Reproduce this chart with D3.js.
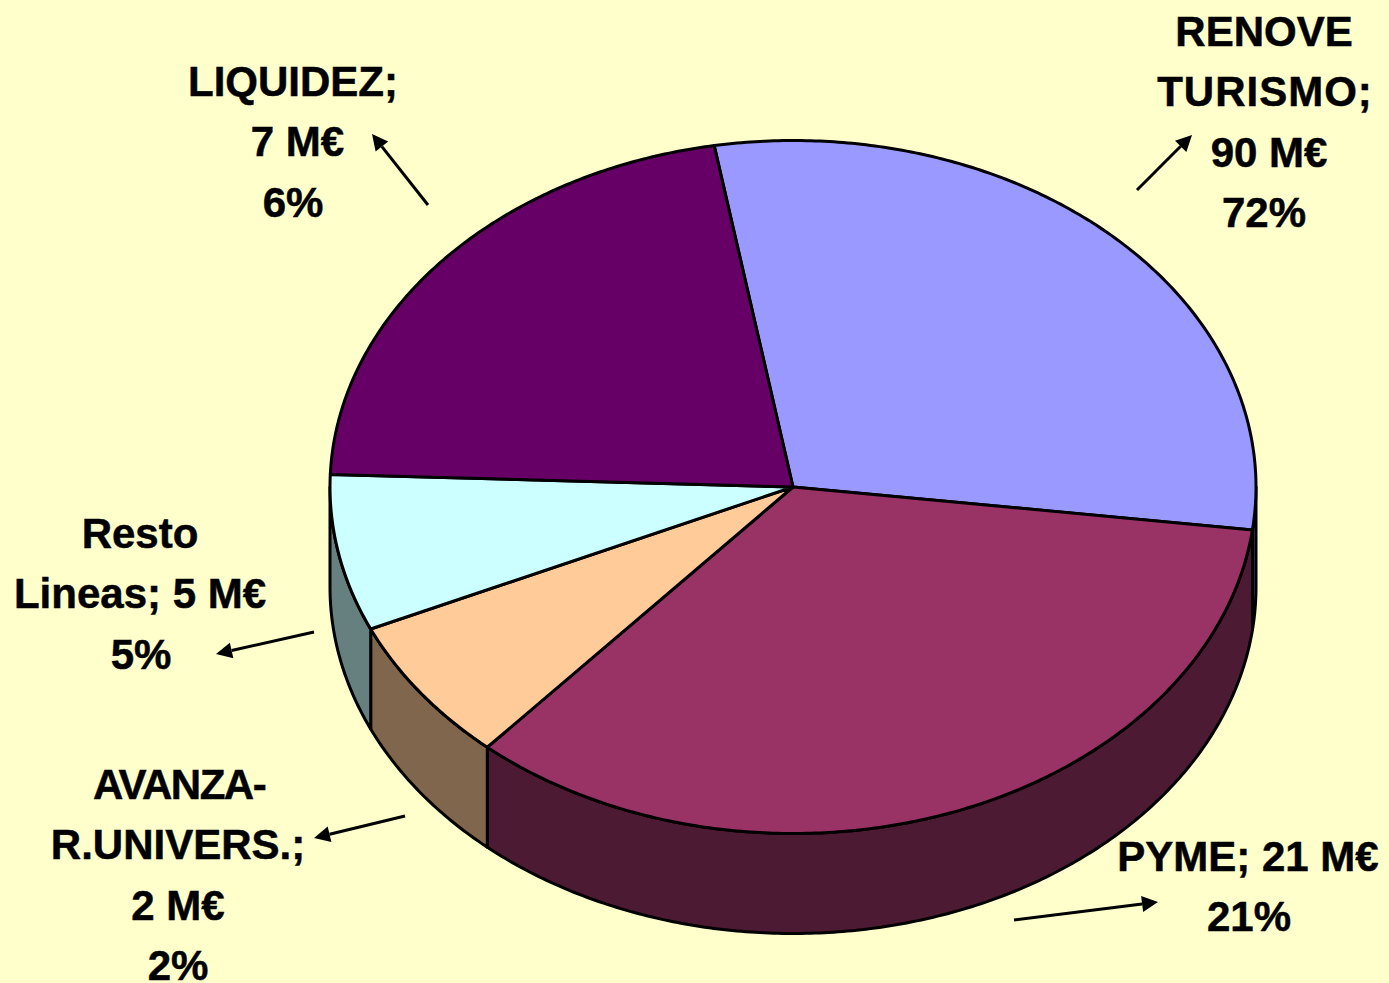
<!DOCTYPE html>
<html><head><meta charset="utf-8">
<script src="https://cdn.jsdelivr.net/npm/d3@7"></script>
<style>html,body{margin:0;padding:0;background:#FFFFCC;overflow:hidden}svg{display:block}
text{font-family:"Liberation Sans",Arial,sans-serif;font-weight:bold;font-size:42px;fill:#000;stroke:#000;stroke-width:.5px;text-anchor:middle}</style>
</head><body><svg id="c" width="1389" height="983"></svg>
<script>
// Categories in drawing order, clockwise from the LIQUIDEZ/RENOVE boundary
const categories = ["RENOVE TURISMO","PYME","AVANZA-R.UNIVERS.","Resto Lineas","LIQUIDEZ"];
// Stated values printed on the labels
const amountsME = [90,21,2,5,7];
const percents = [72,21,2,5,6];
// Slice sizes as actually drawn in the picture (share of the circle, %)
const drawnShares = [29.7,34.5,6.8,7.3,21.7];
const topColors = ["#9999FF","#993366","#FFCC99","#CCFFFF","#660066"];
const sideColors = ["#4D4D80","#4D1A33","#80664D","#668080","#330033"];
const labelLines = [
  ["RENOVE","TURISMO;",amountsME[0]+" M€",percents[0]+"%"],
  ["PYME; "+amountsME[1]+" M€",percents[1]+"%"],
  ["AVANZA-","R.UNIVERS.;",amountsME[2]+" M€",percents[2]+"%"],
  ["Resto","Lineas; "+amountsME[3]+" M€",percents[3]+"%"],
  ["LIQUIDEZ;",amountsME[4]+" M€",percents[4]+"%"]
];
const labelAnchors = [[1264,46],[1248,871],[178,799],[140,548],[293,96]];
const lineOffsets = [[0,1,5,0],[0,1],[1,0,0,0],[0,0,1],[0,4.5,0]];
const lineTracking = {"AVANZA-":-1.5,"TURISMO;":1};
const leaderLines = [[[1137,190],[1192,135]],[[1014,920],[1158,902]],[[405,816],[314,838]],[[314,632],[216,654]],[[428,205],[372,134]]];

const cx=793, cy=487, rx=463, ry=346.5, depth=100, lineH=60.3;
const x=d3.scaleLinear().domain([-1,1]).range([cx-rx,cx+rx]);
const y=d3.scaleLinear().domain([-1,1]).range([cy-ry,cy+ry]);
const svg=d3.select("#c");
const start=-9.8*Math.PI/180;
const arcs=d3.pie().sort(null).startAngle(start).endAngle(start+2*Math.PI)(drawnShares);
const pt=(t,dz=0)=>[x(Math.sin(t)),y(-Math.cos(t))+dz];
const samples=(a,b)=>{const n=Math.max(2,Math.ceil((b-a)/0.01));return d3.range(n+1).map(i=>a+(b-a)*i/n);};
const line=d3.line();
const STROKE={stroke:"#000","stroke-width":3,"stroke-linejoin":"round"};
const applyS=s=>{for(const k in STROKE)s.attr(k,STROKE[k]);return s;};

// side walls: only the front half of the rim (t between 90deg and 270deg) shows
const a90=Math.PI/2,a270=3*Math.PI/2;
arcs.forEach((d,i)=>{
  [0,2*Math.PI].forEach(p=>{
    const a=Math.max(d.startAngle+p,a90),b=Math.min(d.endAngle+p,a270);
    if(b<=a)return;
    const ts=samples(a,b);
    const pts=ts.map(t=>pt(t)).concat(ts.slice().reverse().map(t=>pt(t,depth)));
    applyS(svg.append("path").attr("d",line(pts)+"Z").attr("fill",sideColors[i]));
  });
});
// top faces
arcs.forEach((d,i)=>{
  const pts=[[cx,cy]].concat(samples(d.startAngle,d.endAngle).map(t=>pt(t)));
  applyS(svg.append("path").attr("d",line(pts)+"Z").attr("fill",topColors[i]));
});
// labels
labelLines.forEach((ls,i)=>{
  const t=svg.append("text").attr("transform",`translate(${labelAnchors[i][0]},${labelAnchors[i][1]})`);
  ls.forEach((s,j)=>t.append("tspan").attr("x",lineOffsets[i][j]).attr("y",j*lineH)
    .attr("letter-spacing",lineTracking[s]||0).text(s));
});
// leader arrows
leaderLines.forEach(([p,q])=>{
  const ang=Math.atan2(q[1]-p[1],q[0]-p[0]),L=16,W=8;
  const bx=q[0]-L*Math.cos(ang),by=q[1]-L*Math.sin(ang);
  svg.append("line").attr("x1",p[0]).attr("y1",p[1]).attr("x2",bx).attr("y2",by).attr("stroke","#000").attr("stroke-width",3);
  svg.append("path").attr("fill","#000").attr("d",line([q,[bx-W*Math.sin(ang),by+W*Math.cos(ang)],[bx+W*Math.sin(ang),by-W*Math.cos(ang)]])+"Z");
});
</script></body></html>
